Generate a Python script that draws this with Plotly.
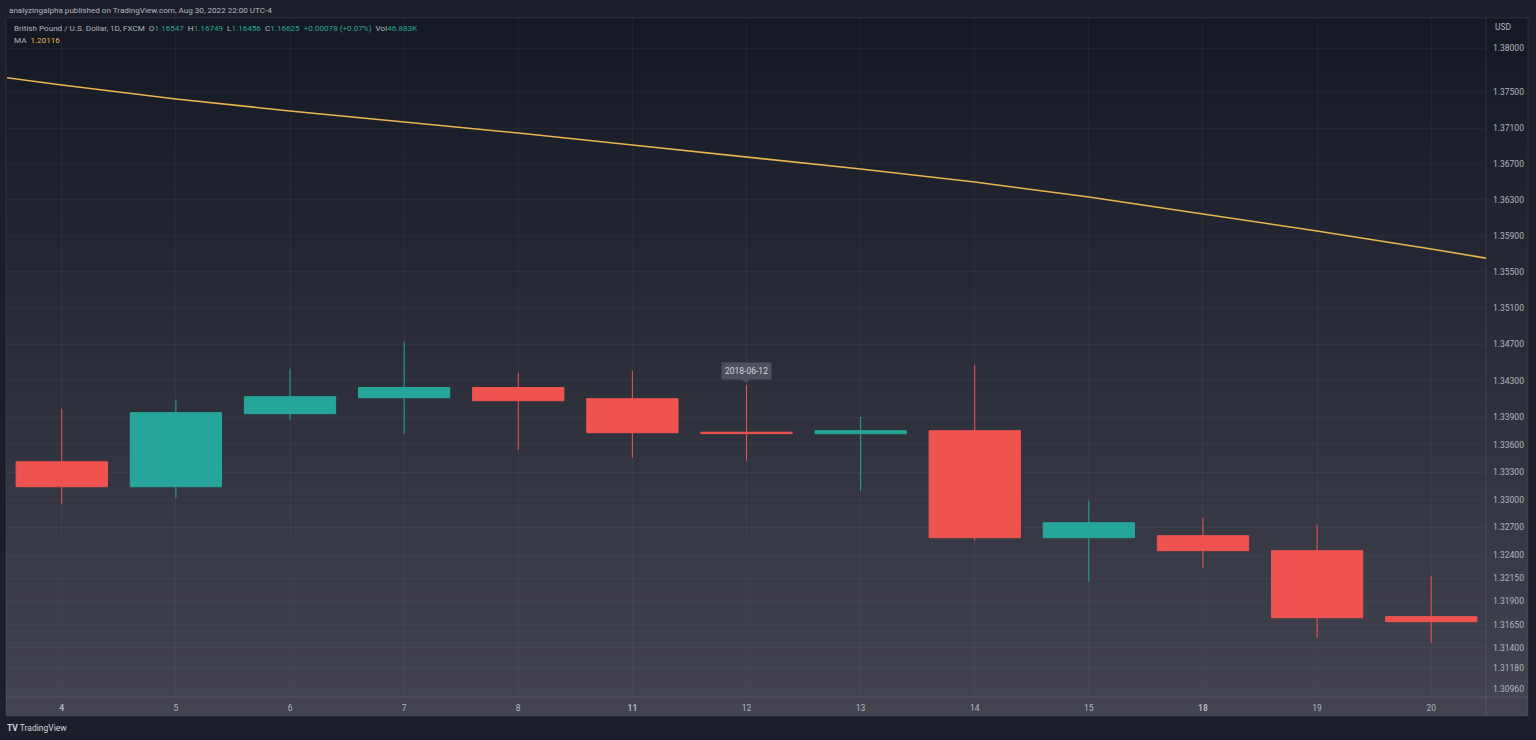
import math
import plotly.graph_objects as go

# ---------------- data ----------------
day_labels = ["4", "5", "6", "7", "8", "11", "12", "13", "14", "15", "18", "19", "20"]
dates = ["2018-06-04", "2018-06-05", "2018-06-06", "2018-06-07", "2018-06-08",
         "2018-06-11", "2018-06-12", "2018-06-13", "2018-06-14", "2018-06-15",
         "2018-06-18", "2018-06-19", "2018-06-20"]
open_p = [1.33413, 1.33141, 1.33938, 1.34113, 1.34225, 1.34102, 1.33735,
          1.33719, 1.33752, 1.32588, 1.32609, 1.32447, 1.31735]
high_p = [1.33992, 1.34091, 1.34432, 1.34728, 1.34387, 1.34409, 1.34255,
          1.33905, 1.34475, 1.32989, 1.32804, 1.32729, 1.32177]
low_p = [1.32957, 1.33022, 1.33872, 1.33719, 1.33544, 1.33457, 1.33424,
         1.33098, 1.32555, 1.32112, 1.32263, 1.31509, 1.31455]
close_p = [1.33141, 1.33949, 1.34124, 1.34225, 1.34080, 1.33730, 1.33720,
           1.33752, 1.32588, 1.32750, 1.32447, 1.31724, 1.31681]
bold_days = ["4", "11", "18"]

# moving average (includes one bar before and after the visible window)
ma_pos = list(range(-1, 14))
ma_vals = [1.37752, 1.37584, 1.37426, 1.37292, 1.37168, 1.37045, 1.36911,
           1.36777, 1.36642, 1.36497, 1.36330, 1.36141, 1.35952, 1.35752, 1.35542]

price_ticks = [1.38, 1.375, 1.371, 1.367, 1.363, 1.359, 1.355, 1.351, 1.347,
               1.343, 1.339, 1.336, 1.333, 1.330, 1.327, 1.324, 1.3215, 1.319,
               1.3165, 1.314, 1.3118, 1.3096]
y_min, y_max = 1.30873, 1.38339

header_title = "analyzingalpha published on TradingView.com, Aug 30, 2022 22:00 UTC-4"
symbol_text = "British Pound / U.S. Dollar, 1D, FXCM"
quote = [("O", "1.16547"), ("H", "1.16749"), ("L", "1.16456"), ("C", "1.16625")]
change_text = "+0.00078 (+0.07%)"
vol_text = "46.883K"
ma_label = "MA"
ma_last = "1.20116"
tooltip_date = "2018-06-12"

# ---------------- style ----------------
W, H = 1536, 740
L, R, T, B = 7, 1486, 18, 697      # pane pixel box
PANEL_R, PANEL_B = 1528, 716
UP = "#26a69a"
DOWN = "#ef5350"
MA_COL = "#eab54e"
TXT = "#b2b5be"
FONT = "Roboto, Liberation Sans, sans-serif"
FS = 8.5
FS_HDR = 8.1


def px2x(px):
    return (px - L) / (R - L)


def py2y(py):
    return (B - py) / (B - T)


pos = list(range(len(day_labels)))

fig = go.Figure()

fig.add_trace(go.Candlestick(
    x=pos, open=open_p, high=high_p, low=low_p, close=close_p,
    increasing=dict(line=dict(color=UP, width=1), fillcolor=UP),
    decreasing=dict(line=dict(color=DOWN, width=1), fillcolor=DOWN),
    whiskerwidth=0, hoverinfo="skip", showlegend=False,
))

fig.add_trace(go.Scatter(
    x=ma_pos, y=ma_vals, mode="lines",
    line=dict(color=MA_COL, width=1.6), hoverinfo="skip", showlegend=False,
))

# ---------------- background gradient ----------------
shapes = []
top_c = (20, 24, 35)
bot_c = (67, 68, 80)
y0 = T
step = 6
while y0 < PANEL_B:
    y1 = min(y0 + step, PANEL_B)
    t = ((y0 + y1) / 2 - T) / (PANEL_B - T)
    c = tuple(int(round(top_c[i] + (bot_c[i] - top_c[i]) * t)) for i in range(3))
    shapes.append(dict(type="rect", xref="paper", yref="paper", layer="below",
                       x0=px2x(6), x1=px2x(PANEL_R), y0=py2y(min(y1 + 1, PANEL_B)), y1=py2y(y0),
                       fillcolor="rgb(%d,%d,%d)" % c, line=dict(width=0)))
    y0 = y1

# separators and border
shapes.append(dict(type="line", xref="paper", yref="paper", layer="above",
                   x0=px2x(R), x1=px2x(R), y0=py2y(PANEL_B), y1=py2y(T),
                   line=dict(color="rgba(255,255,255,0.09)", width=1)))
shapes.append(dict(type="line", xref="paper", yref="paper", layer="above",
                   x0=px2x(6), x1=px2x(PANEL_R), y0=py2y(B), y1=py2y(B),
                   line=dict(color="rgba(255,255,255,0.09)", width=1)))
shapes.append(dict(type="rect", xref="paper", yref="paper", layer="above",
                   x0=px2x(6), x1=px2x(PANEL_R), y0=py2y(PANEL_B), y1=py2y(T),
                   line=dict(color="rgba(255,255,255,0.07)", width=1)))

# tooltip pointer
shapes.append(dict(type="path", xref="paper", yref="paper", layer="above",
                   path="M %f %f L %f %f L %f %f Z" % (px2x(742), py2y(379), px2x(750), py2y(379), px2x(746), py2y(383)),
                   fillcolor="#4e515d", line=dict(width=0)))

# ---------------- annotations ----------------
ann = []
ann.append(dict(text=header_title, x=px2x(7), y=py2y(10), xref="paper", yref="paper",
                xanchor="left", yanchor="middle", showarrow=False,
                font=dict(color=TXT, size=FS_HDR, family=FONT)))

parts = [symbol_text]
for k, v in quote:
    parts.append("%s<span style='color:%s'>%s</span>" % (k, UP, v))
parts.append("<span style='color:%s'>%s</span>" % (UP, change_text))
parts.append("Vol<span style='color:%s'>%s</span>" % (UP, vol_text))
ann.append(dict(text="  ".join(parts), x=px2x(12), y=py2y(28), xref="paper", yref="paper",
                xanchor="left", yanchor="middle", showarrow=False,
                font=dict(color=TXT, size=FS_HDR, family=FONT)))
ann.append(dict(text="%s  <span style='color:%s'>%s</span>" % (ma_label, MA_COL, ma_last),
                x=px2x(12), y=py2y(40), xref="paper", yref="paper",
                xanchor="left", yanchor="middle", showarrow=False,
                font=dict(color=TXT, size=FS_HDR, family=FONT)))
ann.append(dict(text="USD", x=px2x(1493), y=py2y(27), xref="paper", yref="paper",
                xanchor="left", yanchor="middle", showarrow=False,
                font=dict(color=TXT, size=FS, family=FONT)))
ann.append(dict(text=tooltip_date, x=dates.index(tooltip_date), y=py2y(371), xref="x", yref="paper",
                xanchor="center", yanchor="middle", showarrow=False,
                bgcolor="#4e515d", borderpad=3,
                font=dict(color="#d1d4dc", size=FS, family=FONT)))
ann.append(dict(text="<b>TV</b> TradingView", x=px2x(5), y=py2y(728), xref="paper", yref="paper",
                xanchor="left", yanchor="middle", showarrow=False,
                font=dict(color="#d1d4dc", size=FS, family=FONT)))

ticktext_x = ["<b>%s</b>" % d if d in bold_days else d for d in day_labels]

fig.update_layout(
    width=W, height=H,
    margin=dict(l=L, r=W - R, t=T, b=H - B, pad=0),
    paper_bgcolor="#1c1f2a",
    plot_bgcolor="rgba(0,0,0,0)",
    shapes=shapes,
    annotations=ann,
    boxgap=0.2,
    boxgroupgap=0,
    showlegend=False,
    xaxis=dict(
        range=[-0.48, 12.48], tickmode="array", tickvals=pos, ticktext=ticktext_x,
        showgrid=True, gridcolor="rgba(255,255,255,0.035)", gridwidth=1,
        zeroline=False, showline=False, ticks="",
        tickfont=dict(color=TXT, size=FS, family=FONT),
        rangeslider=dict(visible=False), fixedrange=True,
        ticklabelstandoff=4,
    ),
    yaxis=dict(
        type="log", side="right",
        range=[math.log10(y_min), math.log10(y_max)],
        tickmode="array", tickvals=price_ticks,
        ticktext=["%.5f" % v for v in price_ticks],
        showgrid=True, gridcolor="rgba(255,255,255,0.035)", gridwidth=1,
        zeroline=False, showline=False, ticks="",
        tickfont=dict(color=TXT, size=FS, family=FONT),
        ticklabelstandoff=6, fixedrange=True,
    ),
)

fig.write_html("out.html", config={"displayModeBar": False},
               post_script="document.body.style.margin='0';document.body.style.background='#1c1f2a';")
